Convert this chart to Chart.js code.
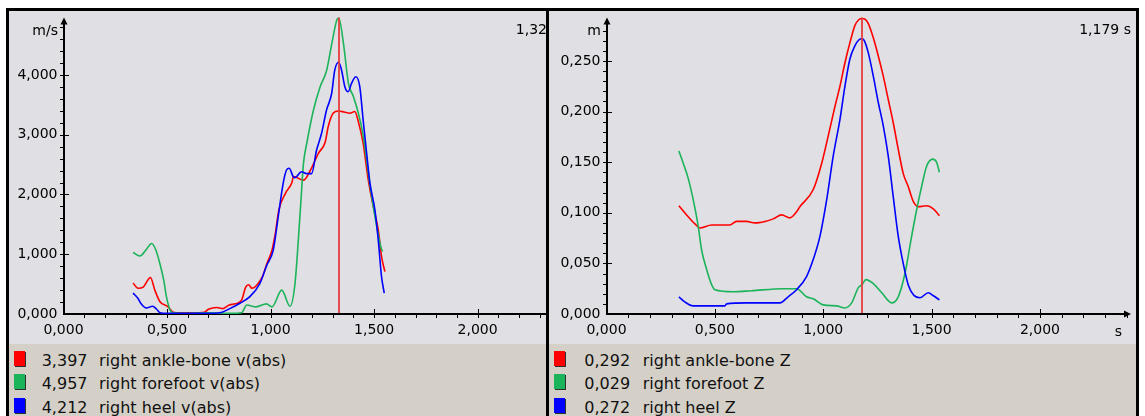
<!DOCTYPE html>
<html>
<head>
<meta charset="utf-8">
<script src="https://cdn.jsdelivr.net/npm/chart.js@4.4.1/dist/chart.umd.min.js"></script>
<style>
  html, body { margin: 0; padding: 0; background: #fff; }
  body { width: 1145px; height: 416px; position: relative; overflow: hidden; font-family: "DejaVu Sans", sans-serif; }
  .frame { position: absolute; left: 6px; top: 8px; width: 1133px; height: 420px; background: #000; }
  .panel { position: absolute; top: 11px; height: 405px; overflow: hidden; background: #D4D0C8; }
  .plot { position: absolute; left: 0; top: 0; right: 0; height: 333px; background: #E0DFE3; }
  .plot canvas { position: absolute; left: 0; top: 0; }
  .sw { position: absolute; width: 11px; height: 15px; box-shadow: 1px 1px 0 #303030; }
  .lt { position: absolute; font-size: 16px; line-height: 23px; color: #111; white-space: pre; }
</style>
</head>
<body>
<div class="frame"></div>
<div class="panel" id="panelVel" style="left:9px;width:537px;">
  <div class="plot"><canvas id="cVel" width="580" height="333"></canvas></div>
</div>
<div class="panel" id="panelPos" style="left:549px;width:587px;">
  <div class="plot"><canvas id="cPos" width="587" height="333"></canvas></div>
</div>
<script>
// ---- cursor times (s) ----
const cursorVel = 1.329;
const cursorPos = 1.179;

// ---- series names and colours ----
const namesVel = ['right ankle-bone v(abs)', 'right forefoot v(abs)', 'right heel v(abs)'];
const namesPos = ['right ankle-bone Z', 'right forefoot Z', 'right heel Z'];
const colors = ['#FF0000', '#1BB45A', '#0000FF'];

// ---- axis ticks ----
const velTickStep = 1, velMinorStep = 0.2, velMax = 4.962;
const posTickStep = 0.05, posMinorStep = 0.01, posMax = 0.293;
const timeTickStep = 0.5, timeMinorStep = 0.1, timeMax = 2.42;

// ---- speed |v| [m/s] : [time s, value] ----
const ankleVel = [[0.336,0.52],[0.36,0.43],[0.385,0.45],[0.42,0.61],[0.441,0.40],[0.465,0.21],[0.505,0.12],
  [0.53,0.03],[0.56,0.02],[0.62,0.02],[0.68,0.03],[0.70,0.08],[0.74,0.11],[0.77,0.09],[0.80,0.15],[0.83,0.17],
  [0.86,0.23],[0.88,0.45],[0.894,0.49],[0.91,0.43],[0.935,0.49],[0.96,0.62],[0.983,0.85],[1.007,1.07],
  [1.023,1.35],[1.04,1.74],[1.072,2.02],[1.104,2.21],[1.11,2.30],[1.16,2.24],[1.193,2.41],[1.231,2.69],
  [1.264,2.88],[1.278,3.13],[1.302,3.36],[cursorVel,3.397],[1.355,3.38],[1.383,3.36],[1.407,3.39],[1.423,3.23],
  [1.447,2.86],[1.472,2.24],[1.496,1.80],[1.52,1.41],[1.536,0.96],[1.552,0.71]];
const forefootVel = [[0.336,1.03],[0.369,0.97],[0.40,1.08],[0.425,1.18],[0.445,1.08],[0.465,0.85],[0.485,0.55],
  [0.497,0.29],[0.514,0.07],[0.53,0.02],[0.60,0.01],[0.70,0.02],[0.80,0.01],[0.86,0.02],[0.885,0.15],[0.93,0.12],
  [0.98,0.17],[1.007,0.12],[1.054,0.40],[1.094,0.13],[1.118,0.51],[1.143,1.70],[1.159,2.52],[1.175,2.86],
  [1.207,3.41],[1.239,3.80],[1.271,4.08],[1.296,4.53],[1.32,4.92],[cursorVel,4.957],[1.352,4.53],[1.376,3.86],
  [1.40,3.64],[1.424,3.36],[1.448,2.97],[1.481,2.13],[1.513,1.46],[1.537,1.07],[1.542,1.05]];
const heelVel = [[0.336,0.35],[0.36,0.26],[0.375,0.17],[0.40,0.10],[0.43,0.13],[0.45,0.08],[0.466,0.02],
  [0.50,0.01],[0.60,0.01],[0.70,0.01],[0.755,0.02],[0.803,0.09],[0.852,0.18],[0.90,0.29],[0.948,0.51],
  [0.981,0.81],[1.013,1.07],[1.037,1.63],[1.061,2.19],[1.077,2.41],[1.09,2.44],[1.109,2.30],[1.117,2.28],
  [1.15,2.38],[1.174,2.35],[1.198,2.35],[1.222,2.74],[1.246,3.02],[1.27,3.41],[1.295,3.69],[1.31,4.08],
  [cursorVel,4.212],[1.343,4.08],[1.359,3.80],[1.375,3.72],[1.391,3.86],[1.412,3.97],[1.431,3.80],[1.447,3.25],
  [1.464,2.69],[1.48,2.19],[1.504,1.74],[1.52,1.24],[1.536,0.62],[1.549,0.35]];

// ---- height Z [m] : [time s, value] ----
const anklePos = [[0.334,0.107],[0.369,0.098],[0.408,0.089],[0.431,0.085],[0.485,0.088],[0.569,0.088],[0.60,0.0915],
  [0.646,0.0915],[0.685,0.090],[0.731,0.0915],[0.769,0.094],[0.808,0.098],[0.846,0.095],[0.877,0.101],[0.892,0.106],
  [0.954,0.123],[0.993,0.149],[1.023,0.176],[1.054,0.205],[1.077,0.225],[1.10,0.248],[1.123,0.268],[1.146,0.285],
  [1.165,0.291],[cursorPos,0.292],[1.195,0.291],[1.208,0.287],[1.231,0.273],[1.254,0.255],[1.277,0.235],[1.30,0.212],
  [1.323,0.189],[1.346,0.163],[1.369,0.139],[1.392,0.126],[1.416,0.111],[1.439,0.106],[1.477,0.107],[1.508,0.104],
  [1.536,0.097]];
const forefootPos = [[0.334,0.161],[0.354,0.149],[0.377,0.134],[0.40,0.113],[0.423,0.087],[0.439,0.063],[0.462,0.044],
  [0.485,0.029],[0.50,0.024],[0.585,0.022],[0.669,0.023],[0.815,0.025],[0.877,0.025],[0.923,0.017],[0.954,0.015],
  [1.0,0.009],[1.062,0.008],[1.10,0.006],[1.131,0.011],[1.162,0.026],[cursorPos,0.029],[1.197,0.034],[1.231,0.030],
  [1.27,0.021],[1.316,0.011],[1.346,0.017],[1.377,0.040],[1.408,0.077],[1.431,0.103],[1.454,0.126],[1.477,0.146],
  [1.505,0.153],[1.523,0.150],[1.536,0.140]];
const heelPos = [[0.334,0.017],[0.361,0.012],[0.40,0.008],[0.546,0.008],[0.554,0.010],[0.646,0.011],[0.80,0.011],
  [0.838,0.017],[0.877,0.024],[0.923,0.037],[0.954,0.054],[0.985,0.077],[1.016,0.113],[1.046,0.156],[1.077,0.192],
  [1.10,0.225],[1.123,0.252],[1.146,0.265],[1.165,0.271],[cursorPos,0.272],[1.19,0.270],[1.208,0.258],[1.231,0.235],
  [1.254,0.209],[1.277,0.186],[1.30,0.156],[1.323,0.116],[1.346,0.077],[1.369,0.050],[1.392,0.029],[1.416,0.019],
  [1.446,0.016],[1.485,0.021],[1.508,0.018],[1.536,0.014]];

const FONT = '"DejaVu Sans", sans-serif';
Chart.defaults.font.family = FONT;
const fmt = v => Number(v).toFixed(3).replace('.', ',');

// Axes with arrowheads, crossing major ticks, small minor ticks, cursor line and readouts
const axisDecor = {
  id: 'axisDecor',
  beforeDatasetsDraw(chart, args, o) {
    const { ctx, chartArea: a, scales: { x, y } } = chart;
    const x0 = Math.round(x.getPixelForValue(0)), y0 = Math.round(y.getPixelForValue(0));
    ctx.save();
    ctx.strokeStyle = '#000'; ctx.fillStyle = '#000';
    // axis lines
    ctx.lineWidth = 2;
    ctx.beginPath();
    ctx.moveTo(x0 - 1, y0); ctx.lineTo(a.right - 5, y0);
    ctx.moveTo(x0, y0 + 1); ctx.lineTo(x0, a.top + 5);
    ctx.stroke();
    // arrowheads
    ctx.beginPath();
    ctx.moveTo(a.right, y0); ctx.lineTo(a.right - 7, y0 - 3.5); ctx.lineTo(a.right - 7, y0 + 3.5); ctx.closePath();
    ctx.moveTo(x0, a.top); ctx.lineTo(x0 - 3.5, a.top + 7); ctx.lineTo(x0 + 3.5, a.top + 7); ctx.closePath();
    ctx.fill();
    // ticks on the time axis
    ctx.lineWidth = 1;
    ctx.beginPath();
    const nx = Math.floor((x.max - 0.02) / o.xMinor + 1e-9);
    for (let i = 1; i <= nx; i++) {
      const v = i * o.xMinor;
      const px = Math.round(x.getPixelForValue(v)) + 0.5;
      const major = Math.abs(v / o.xMajor - Math.round(v / o.xMajor)) < 1e-6;
      ctx.moveTo(px, major ? y0 - 5 : y0); ctx.lineTo(px, y0 + 4);
    }
    // ticks on the value axis
    const ny = Math.floor(y.max / o.yMinor + 1e-9);
    for (let i = 1; i <= ny; i++) {
      const v = i * o.yMinor;
      const py = Math.round(y.getPixelForValue(v)) + 0.5;
      if (py < a.top + 8) continue;
      const major = Math.abs(v / o.yMajor - Math.round(v / o.yMajor)) < 1e-6;
      ctx.moveTo(x0 - 4, py); ctx.lineTo(major ? x0 + 5 : x0, py);
    }
    ctx.stroke();
    // unit labels
    ctx.font = '14px ' + FONT;
    ctx.textAlign = 'right'; ctx.textBaseline = 'alphabetic';
    ctx.fillText(o.unit, x0 - 6, a.top + 17);
    ctx.textAlign = 'center';
    ctx.fillText('s', a.right - 12.5, y0 + 22);
    ctx.restore();
  },
  afterDatasetsDraw(chart, args, o) {
    const { ctx, chartArea: a, scales: { x, y } } = chart;
    const cx = Math.round(x.getPixelForValue(o.cursor));
    const y0 = Math.round(y.getPixelForValue(0));
    ctx.save();
    ctx.strokeStyle = 'rgba(228,60,60,0.9)';
    ctx.lineWidth = 2;
    ctx.beginPath(); ctx.moveTo(cx, a.top); ctx.lineTo(cx, y0 - 1); ctx.stroke();
    ctx.fillStyle = '#000';
    ctx.font = '14px ' + FONT;
    ctx.textAlign = 'right'; ctx.textBaseline = 'alphabetic';
    ctx.fillText(fmt(o.cursor) + ' s', a.right + o.readoutDx, a.top + 16);
    ctx.restore();
  }
};

function makeChart(id, series, cfg) {
  return new Chart(document.getElementById(id), {
    type: 'line',
    data: {
      datasets: series.map((pts, i) => ({
        data: pts.map(([t, v]) => ({ x: t, y: v })),
        borderColor: colors[i],
        borderWidth: 1.6,
        pointRadius: 0,
        fill: false,
        cubicInterpolationMode: 'monotone',
        order: [2, 1, 0][i]
      }))
    },
    options: {
      responsive: false,
      animation: false,
      events: [],
      layout: { padding: { left: 0, top: 6.5, right: cfg.padRight, bottom: 0 } },
      plugins: {
        legend: { display: false },
        tooltip: { enabled: false },
        axisDecor: {
          cursor: cfg.cursor, unit: cfg.unit, readoutDx: cfg.readoutDx,
          xMajor: timeTickStep, xMinor: timeMinorStep,
          yMajor: cfg.yStep, yMinor: cfg.yMinor
        }
      },
      scales: {
        x: {
          type: 'linear', min: 0, max: timeMax,
          grid: { display: false, drawTicks: false },
          border: { display: false },
          ticks: {
            stepSize: timeTickStep, includeBounds: false, autoSkip: false, maxRotation: 0,
            callback: fmt, color: '#000', padding: 8, font: { size: 14, family: FONT }
          },
          afterFit(s) { s.height = 30; s.paddingLeft = 0; s.paddingRight = 0; }
        },
        y: {
          type: 'linear', min: 0, max: cfg.yMax,
          grid: { display: false, drawTicks: false },
          border: { display: false },
          ticks: {
            stepSize: cfg.yStep, includeBounds: false, autoSkip: false,
            callback: fmt, color: '#000', padding: 6, font: { size: 14, family: FONT }
          },
          afterFit(s) { s.width = cfg.axisWidth; s.paddingTop = 0; s.paddingBottom = 0; }
        }
      }
    },
    plugins: [axisDecor]
  });
}

makeChart('cVel', [ankleVel, forefootVel, heelVel], {
  cursor: cursorVel, unit: 'm/s', yMax: velMax, yStep: velTickStep, yMinor: velMinorStep,
  axisWidth: 54.5, padRight: 24.4, readoutDx: 3
});
makeChart('cPos', [anklePos, forefootPos, heelPos], {
  cursor: cursorPos, unit: 'm', yMax: posMax, yStep: posTickStep, yMinor: posMinorStep,
  axisWidth: 57.5, padRight: 5, readoutDx: 0
});

// Legend rows: value of each series at the cursor time
function legend(panelId, series, names, cursor, valueX, nameX) {
  const panel = document.getElementById(panelId);
  series.forEach((pts, i) => {
    const hit = pts.find(p => p[0] === cursor);
    const base = 355 + i * 23.35;
    const sw = document.createElement('div');
    sw.className = 'sw';
    sw.style.left = '5px'; sw.style.top = (base - 15) + 'px'; sw.style.background = colors[i];
    panel.appendChild(sw);
    const val = document.createElement('div');
    val.className = 'lt'; val.style.left = valueX + 'px'; val.style.top = (base - 17) + 'px';
    val.textContent = fmt(hit[1]);
    panel.appendChild(val);
    const nm = document.createElement('div');
    nm.className = 'lt'; nm.style.left = nameX + 'px'; nm.style.top = (base - 17) + 'px';
    nm.textContent = names[i];
    panel.appendChild(nm);
  });
}
legend('panelVel', [ankleVel, forefootVel, heelVel], namesVel, cursorVel, 32.7, 90);
legend('panelPos', [anklePos, forefootPos, heelPos], namesPos, cursorPos, 35.3, 93.7);
</script>
</body>
</html>
